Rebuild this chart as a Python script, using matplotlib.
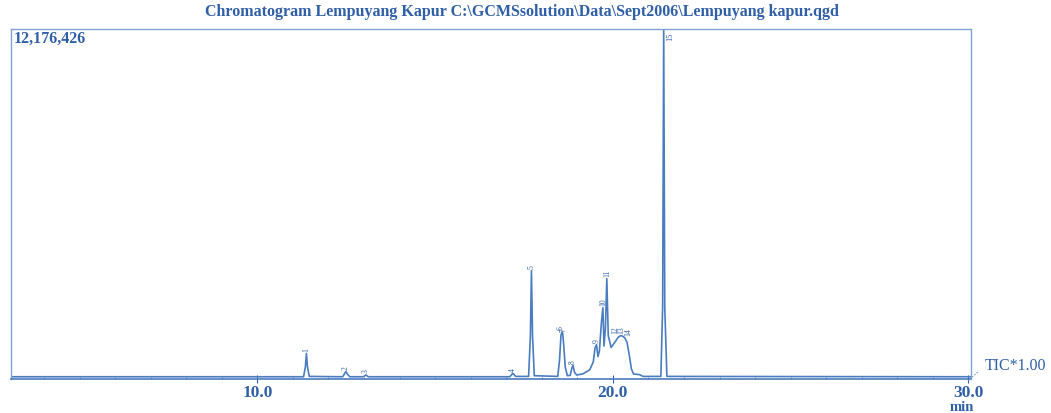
import matplotlib.pyplot as plt
from matplotlib.ticker import MultipleLocator

# Trace: retention time (min) and relative intensity (% of 12,176,426)
rt = [3.07, 11.30, 11.35, 11.38, 11.41, 11.46, 12.40, 12.46, 12.49, 12.53, 12.60,
      12.98, 13.05, 13.12, 17.10, 17.17, 17.20, 17.26, 17.63, 17.68, 17.71, 17.74,
      17.79, 18.45, 18.50, 18.54, 18.57, 18.59, 18.62, 18.66, 18.72, 18.80, 18.85,
      18.88, 18.92, 18.98, 19.15, 19.35, 19.45, 19.50, 19.54, 19.58, 19.62, 19.68,
      19.72, 19.75, 19.79, 19.83, 19.87, 19.95, 20.05, 20.15, 20.22, 20.28, 20.34,
      20.40, 20.46, 20.52, 20.58, 20.75, 20.85, 21.35, 21.40, 21.43, 21.46, 21.52,
      30.06]
intensity = [0.2, 0.2, 3.0, 6.9, 3.0, 0.3, 0.2, 1.2, 1.7, 1.0, 0.2,
             0.2, 0.7, 0.2, 0.2, 1.0, 1.1, 0.3, 0.3, 12.0, 30.6, 12.0,
             0.5, 0.3, 5.0, 12.0, 13.1, 12.5, 9.0, 3.0, 0.5, 0.6, 2.8,
             3.4, 1.5, 0.7, 1.0, 2.2, 4.5, 8.5, 9.4, 6.0, 7.5, 16.0,
             20.0, 9.0, 14.0, 28.3, 12.0, 8.6, 10.0, 11.5, 12.0, 11.8, 11.3,
             10.0, 6.5, 2.5, 1.0, 0.8, 0.3, 0.3, 20.0, 100.0, 20.0, 0.3,
             0.2]

# Peak labels
peak_ids = ['1', '2', '3', '4', '5', '6', '7', '8', '9', '10', '11', '12', '13', '14']
peak_rt = [11.38, 12.49, 13.05, 17.19, 17.71, 18.54, 18.61, 18.88, 19.54, 19.72, 19.83,
           20.06, 20.25, 20.44]
peak_top = [6.9, 1.7, 0.7, 1.1, 30.6, 13.1, 12.5, 3.4, 9.4, 20.0, 28.3, 11.8, 12.0, 11.3]

ink = '#2f5fa6'
trace = '#4a7cc0'
serif = 'Liberation Serif'

fig = plt.figure(figsize=(10.51, 4.14), dpi=100)
ax = fig.add_axes([11 / 1051, 34.5 / 414, 959.5 / 1051, 350 / 414])

ax.plot(rt, intensity, color=trace, lw=1.2)
ax.set_xlim(3.07, 30.06)
ax.set_ylim(-0.3, 100)

for pid, x, y in zip(peak_ids, peak_rt, peak_top):
    ax.text(x, y + 0.8, pid, rotation=90, ha='center', va='bottom',
            fontsize=5.5, family=serif, color=ink)
ax.text(21.62, 99, '15', rotation=90, ha='center', va='top',
        fontsize=6, family=serif, color=ink)

for s in ['top', 'left', 'right']:
    ax.spines[s].set_color('#7ea2d6')
    ax.spines[s].set_linewidth(1.0)
ax.spines['bottom'].set_color(trace)
ax.spines['bottom'].set_linewidth(1.2)
ax.spines['top'].set_linestyle((0, (4, 1)))

ax.set_yticks([])
ax.set_xticks([10, 20, 30])
ax.set_xticklabels(['10.0', '20.0', '30.0'], family=serif, fontsize=12.5,
                   color=ink, fontweight='semibold')
ax.xaxis.set_minor_locator(MultipleLocator(1))
ax.tick_params(axis='x', which='major', direction='inout', length=6, color=ink, pad=1)
ax.tick_params(axis='x', which='minor', direction='in', length=1.5, color=trace)

ax.text(0.003, 0.995, '12,176,426', transform=ax.transAxes, ha='left', va='top',
        fontsize=11.5, family=serif, color=ink, fontweight='bold')

fig.text(0.497, 0.972, 'Chromatogram Lempuyang Kapur C:\\GCMSsolution\\Data\\Sept2006\\Lempuyang kapur.qgd',
         ha='center', va='center', fontsize=11.5, family=serif, color=ink, fontweight='bold')
fig.text(0.937, 0.117, 'TIC*1.00', ha='left', va='center', fontsize=11.5, family=serif, color=ink)
fig.lines.append(plt.Line2D([968 / 1051, 979 / 1051], [1 - 382 / 414, 1 - 372 / 414],
                            transform=fig.transFigure, color=trace, lw=0.8, ls=':'))
fig.text(962 / 1051, 1 - 408 / 414, 'min', ha='center', va='center', fontsize=10.5,
         family=serif, color=ink, fontweight='bold')

fig.savefig('out.png', dpi=100)
